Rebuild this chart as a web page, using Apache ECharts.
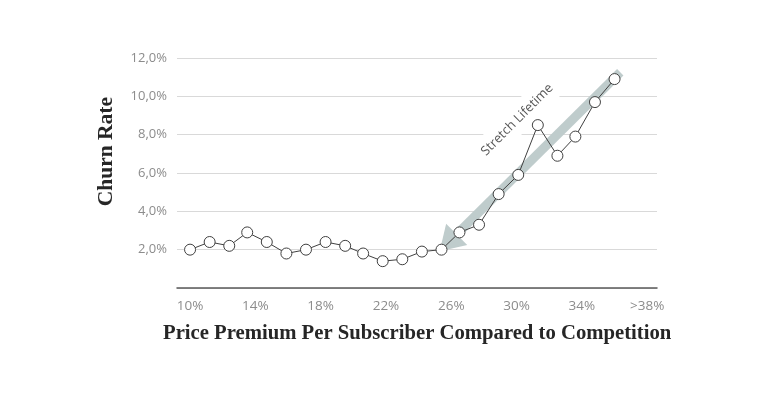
<!DOCTYPE html>
<html>
<head>
<meta charset="utf-8">
<script src="https://cdn.jsdelivr.net/npm/echarts@6/dist/echarts.min.js"></script>
<style>html,body{margin:0;padding:0;background:#fff;}#c{width:768px;height:396px;}</style>
</head>
<body>
<div id="c"></div>
<script>
// Price premium positions of each observation (x) and churn rate in % (y)
const premium = [10.0, 11.2, 12.4, 13.5, 14.7, 15.9, 17.1, 18.3, 19.5, 20.6, 21.8, 23.0,
                 24.2, 25.4, 26.5, 27.7, 28.9, 30.1, 31.3, 32.5, 33.6, 34.8, 36.0];
const churn = [2.0, 2.4, 2.2, 2.9, 2.4, 1.8, 2.0, 2.4, 2.2, 1.8, 1.4, 1.5,
               1.9, 2.0, 2.9, 3.3, 4.9, 5.9, 8.5, 6.9, 7.9, 9.7, 10.9];
const xTickValues = [10, 14, 18, 22, 26, 30, 34, 38];
const xTickLabels = ['10%', '14%', '18%', '22%', '26%', '30%', '34%', '>38%'];
const yTickValues = [2, 4, 6, 8, 10, 12];
const annotationText = 'Stretch Lifetime';
const arrowFrom = [36.35, 11.26];
const arrowTo = [25.81, 2.36];
const annotationAt = [30.04, 8.78];

const points = premium.map((x, i) => [x, churn[i]]);
const chart = echarts.init(document.getElementById('c'));
const labelFont = '"Open Sans", sans-serif';
chart.setOption({
  animation: false,
  backgroundColor: '#fff',
  grid: { left: 177, right: 111, top: 58, bottom: 108 },
  xAxis: {
    type: 'value', min: 9.2, max: 38.6,
    axisLine: { show: true, lineStyle: { color: '#595959', width: 1.5 } },
    axisTick: { show: false },
    splitLine: { show: false },
    axisLabel: {
      customValues: xTickValues,
      margin: 11,
      color: '#8c8c8c', fontSize: 13.5, fontFamily: labelFont,
      formatter: v => xTickLabels[xTickValues.indexOf(Math.round(v))] || ''
    }
  },
  yAxis: {
    type: 'value', min: 0, max: 12, interval: 2,
    axisLine: { show: false }, axisTick: { show: false },
    splitLine: { lineStyle: { color: '#d9d9d9', width: 1 } },
    axisLabel: {
      margin: 10, color: '#8c8c8c', fontSize: 13, fontFamily: labelFont,
      formatter: v => yTickValues.includes(v) ? v.toFixed(1).replace('.', ',') + '%' : ''
    }
  },
  graphic: [
    { type: 'text', left: 95, top: 97, rotation: Math.PI / 2,
      style: { text: 'Churn Rate', font: 'bold 21.5px "Liberation Serif", serif', fill: '#262626' } },
    { type: 'text', left: 163, top: 323,
      style: { text: 'Price Premium Per Subscriber Compared to Competition',
               font: 'bold 20.7px "Liberation Serif", serif', fill: '#262626' } }
  ],
  series: [
    {
      type: 'line', data: [], z: 1, silent: true,
      markLine: {
        z: 1, silent: true, symbol: ['none', 'triangle'], symbolSize: [30, 24],
        label: { show: false },
        lineStyle: { color: '#bfcccc', width: 9, type: 'solid', opacity: 1 },
        data: [[{ coord: arrowFrom }, { coord: arrowTo }]]
      },
      markPoint: {
        z: 1, silent: true, symbol: 'circle', symbolSize: 1,
        itemStyle: { color: 'rgba(0,0,0,0)' },
        label: {
          show: true, position: 'inside', rotate: 45, formatter: annotationText,
          color: '#595959', fontSize: 13, fontFamily: labelFont,
          backgroundColor: '#fff', padding: [7, 3]
        },
        data: [{ coord: annotationAt }]
      }
    },
    {
      type: 'line', data: points, z: 6, zlevel: 0,
      symbol: 'circle', symbolSize: 11,
      lineStyle: { color: '#404040', width: 1 },
      itemStyle: { color: '#fff', borderColor: '#404040', borderWidth: 1 }
    }
  ]
});
</script>
</body>
</html>
